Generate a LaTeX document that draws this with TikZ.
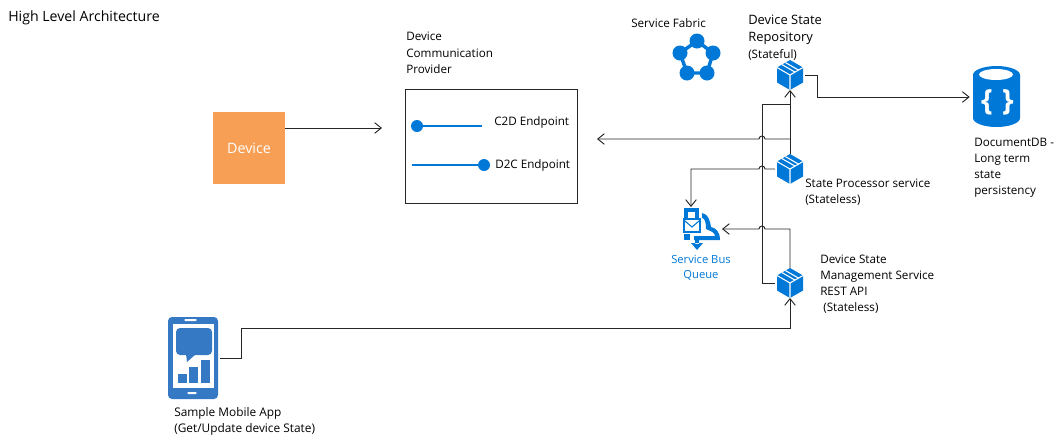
\documentclass[tikz,border=0pt]{standalone}
\usepackage{fontspec}
\setmainfont{Open Sans}
\usepackage{xcolor}
\definecolor{azure-blue}{HTML}{0078D7}
\definecolor{phone-blue}{HTML}{3578C4}
\definecolor{device-orange}{HTML}{F79F55}
\definecolor{line-dark}{HTML}{262626}
\usetikzlibrary{arrows.meta,calc}
\tikzset{
  label-text/.style={inner sep=0pt, anchor=north west, align=left, font=\fontsize{8.75}{12}\selectfont, text=black},
  icon-spot/.style={inner sep=0pt, minimum size=#1},
  brace-text/.style={text=white, inner sep=0pt, font=\bfseries\fontsize{22}{22}\selectfont},
  link/.style={draw=line-dark, line width=0.7pt},
  link-arrow/.style={link, -{Straight Barb[length=5pt,width=8pt]}}
}
% cube icon, centred on a named node
\newcommand{\cubeicon}[1]{
  \fill[azure-blue] ($(#1)+(0,-15)$) -- ($(#1)+(13,-7.5)$) -- ($(#1)+(13,7.5)$) -- ($(#1)+(0,15)$) -- ($(#1)+(-13,7.5)$) -- ($(#1)+(-13,-7.5)$) -- cycle;
  \draw[white, line width=0.8pt] ($(#1)+(-13,-7.5)$) -- ($(#1)+(0,0)$) -- ($(#1)+(13,-7.5)$) ($(#1)+(0,0)$) -- ($(#1)+(0,15)$);
  \draw[white, line width=0.8pt] ($(#1)+(-4.5,-12.4)$) -- ($(#1)+(8.5,-4.9)$);
  \draw[white, line width=0.8pt] ($(#1)+(-8,-10.4)$) -- ($(#1)+(5,-2.9)$);
}
\begin{document}
\begin{tikzpicture}[x=0.75pt, y=-0.75pt]

    % Background
    \useasboundingbox (0, 0) rectangle (1064, 444);
    \fill[white] (0, 0) rectangle (1064, 444);

    % Device and provider box
    \node[fill=device-orange, minimum width=54pt, minimum height=54pt, inner sep=0pt, text=white, font=\fontsize{10.7}{12}\selectfont] (device) at (249, 148) {Device};
    \node[draw=line-dark, line width=0.7pt, minimum width=129pt, minimum height=85.5pt, inner sep=0pt] (provider) at (491, 146) {};
    \coordinate (providerin) at (382, 128);
    \coordinate (providerout) at (597, 139);

    % Endpoints
    \fill[azure-blue] (417, 126) circle (6);
    \draw[azure-blue, line width=1.8pt] (417, 126) -- (482, 126);
    \fill[azure-blue] (484, 165) circle (6);
    \draw[azure-blue, line width=1.8pt] (412, 165) -- (484, 165);

    % Service Fabric
    \draw[azure-blue, line width=2.6pt] (697, 41) -- (713, 53) -- (707, 73) -- (687, 73) -- (680, 53) -- cycle;
    \foreach \px/\py in {697/41, 713/53, 707/73, 687/73, 680/53}
      \fill[azure-blue] (\px, \py) circle (7.5);

    % Cubes
    \node[icon-spot=22pt] (repo) at (790, 75) {};
    \node[icon-spot=22pt] (processor) at (790, 169) {};
    \node[icon-spot=22pt] (management) at (790, 283) {};
    \cubeicon{repo}
    \cubeicon{processor}
    \cubeicon{management}

    % DocumentDB
    \node[icon-spot=39pt] (docdb) at (996, 97) {};
    \fill[azure-blue] (973, 75) arc[start angle=180, end angle=360, x radius=23.5, y radius=9] -- (1020, 118) arc[start angle=0, end angle=180, x radius=23.5, y radius=9] -- cycle;
    \fill[white] (996, 74.5) ellipse (17 and 5.5);
    \node[brace-text] (braceopen) at (987, 102) {\{};
    \node[brace-text] (braceclose) at (1008, 102) {\}};

    % Service bus queue
    \node[icon-spot=27pt] (queue) at (701, 229) {};
    \fill[azure-blue] (684, 208) rectangle (699, 220);
    \fill[white] (688, 212) rectangle (695, 220);
    \fill[azure-blue] (702, 213) .. controls (708, 214) and (710, 220) .. (711, 227) .. controls (716, 228) and (720, 232) .. (720, 240) -- (694, 240) -- (694, 236) -- (715, 236) .. controls (715, 232) and (710, 231) .. (706, 229) .. controls (706, 223) and (705, 218) .. (702, 218) -- cycle;
    \fill[azure-blue] (684, 234) rectangle (690, 240);
    \fill[azure-blue] (695, 238) rectangle (699, 244) (691, 243) -- (703, 243) -- (697, 250) -- cycle;
    \fill[azure-blue] (683, 218) rectangle (701, 233);
    \fill[white] (685, 220) rectangle (699, 231);
    \draw[azure-blue, line width=0.8pt] (685, 221) -- (692, 227) -- (699, 221);

    % Phone
    \node[inner sep=0pt, minimum width=39pt, minimum height=61pt] (phone) at (194, 358) {};
    \fill[phone-blue, rounded corners=3pt] (168, 317) rectangle (218, 399);
    \fill[white] (173, 324) rectangle (214, 388);
    \fill[white, rounded corners=1pt] (184, 319) rectangle (197, 321);
    \fill[white, rounded corners=1pt] (187, 392) rectangle (197, 394);
    \fill[phone-blue, rounded corners=3pt] (176, 328) rectangle (212, 355);
    \fill[phone-blue] (186, 354) -- (187, 362) -- (196, 354) -- cycle;
    \fill[phone-blue] (178, 374) rectangle (187, 383);
    \fill[phone-blue] (189, 367) rectangle (198, 383);
    \fill[phone-blue] (201, 360) rectangle (210, 383);

    % Connectors
    \draw[link-arrow] (device.east |- providerin) -- (providerin);
    \draw[link-arrow] (repo.east) -| (817, 97) -- (docdb.west);
    \draw[link-arrow] (processor.north) -- (repo.south);
    \draw[link] (management.west) -- (762, 283) -- (762, 104) -- (790, 104);
    \draw[link-arrow] (790, 139) -- (765, 139) arc[start angle=0, end angle=-180, radius=3] -- (providerout);
    \draw[link-arrow] (processor.west) -- (765, 169) arc[start angle=0, end angle=-180, radius=3] -- (691, 169) -- (691, 207);
    \draw[link-arrow] (management.north) -- (790, 229) -- (765, 229) arc[start angle=0, end angle=-180, radius=3] -- (722, 229);
    \draw[link-arrow] (phone.east) -- (241, 358) -- (241, 328) -| (management.south);

    % Labels
    \node[label-text, font=\fontsize{10.6}{12}\selectfont] (title) at (8, 10) {High Level Architecture};
    \node[label-text, font=\fontsize{8.75}{12.4}\selectfont] (providerlabel) at (406, 32) {Device\\Communication\\Provider};
    \node[label-text] (c2dlabel) at (494, 116) {C2D Endpoint};
    \node[label-text] (d2clabel) at (495, 159) {D2C Endpoint};
    \node[label-text] (fabriclabel) at (631, 18) {Service Fabric};
    \node[label-text, font=\fontsize{9.7}{12.75}\selectfont] (repolabel) at (748, 15) {Device State\\Repository};
    \node[label-text] (repostate) at (748, 49) {(Stateful)};
    \node[label-text] (processorlabel) at (805, 179) {State Processor service\\(Stateless)};
    \node[label-text] (managementlabel) at (820, 255) {Device State\\Management Service\\REST API\\\ (Stateless)};
    \node[label-text] (docdblabel) at (974, 138) {DocumentDB -\\Long term\\state\\persistency};
    \node[label-text, text=azure-blue, align=center, anchor=north, font=\fontsize{8.4}{11}\selectfont] (queuelabel) at (701, 255) {Service Bus\\Queue};
    \node[label-text, font=\fontsize{8.9}{12.5}\selectfont] (phonelabel) at (174, 407) {Sample Mobile App\\(Get/Update device State)};

\end{tikzpicture}
\end{document}
